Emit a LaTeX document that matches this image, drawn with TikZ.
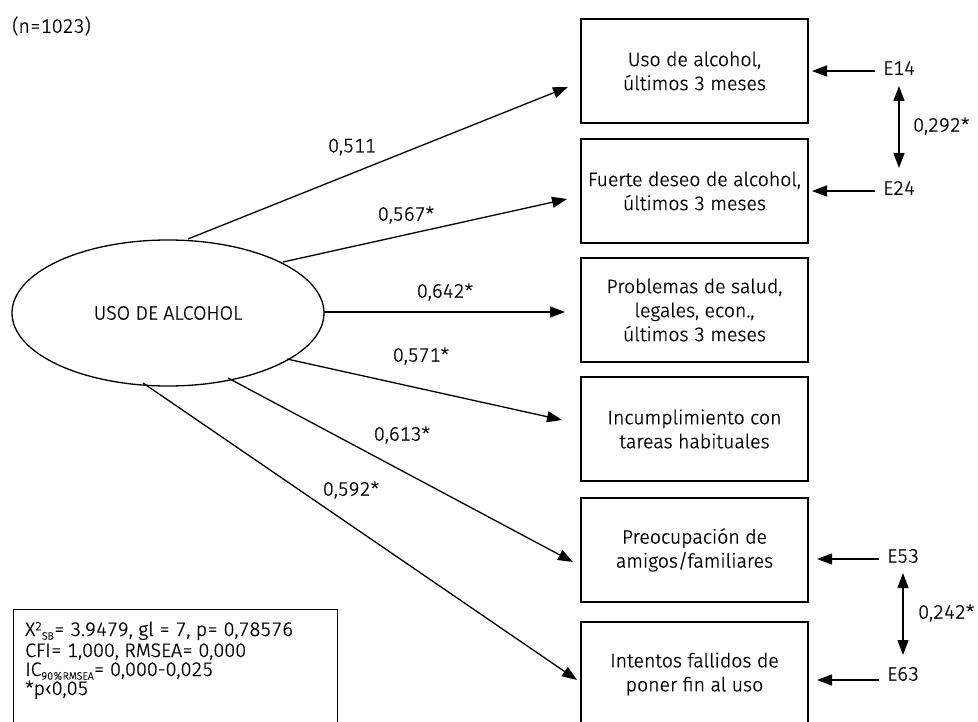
\documentclass[tikz,border=0pt]{standalone}
\usepackage{fontspec}
\setmainfont{Fira Sans}[UprightFont={* Light}, UprightFeatures={FakeBold=0.8}, Numbers=Monospaced]
\usetikzlibrary{arrows.meta,shapes.geometric}
\begin{document}
\begin{tikzpicture}[x=1pt,y=-1pt,
  box/.style={draw, line width=1.3pt, minimum width=227pt, minimum height=104pt, align=center, inner sep=0pt, font=\fontsize{19.5}{24}\selectfont},
  lbl/.style={font=\fontsize{19.5}{22}\selectfont, inner sep=0pt},
  arr/.style={line width=1.3pt, -{Triangle[length=15pt,width=11pt]}},
  darr/.style={line width=1.3pt, {Triangle[length=15pt,width=11pt]}-{Triangle[length=15pt,width=11pt]}}]
\useasboundingbox (0,0) rectangle (978,722);

\node[lbl, anchor=west] (n) at (12,26) {(n=1023)};

\node[draw, ellipse, line width=1.3pt, minimum width=312pt, minimum height=146pt, inner sep=0pt, font=\fontsize{19.5}{22}\selectfont] (ell) at (168,313) {USO DE ALCOHOL};

\node[box] (b1) at (694.5,71) {Uso de alcohol,\\últimos 3 meses};
\node[box] (b2) at (694.5,191) {Fuerte deseo de alcohol,\\últimos 3 meses};
\node[box] (b3) at (694.5,310) {Problemas de salud,\\legales, econ.,\\últimos 3 meses};
\node[box] (b4) at (694.5,429) {Incumplimiento con\\tareas habituales};
\node[box] (b5) at (694.5,550) {Preocupación de\\amigos/familiares};
\node[box] (b6) at (694.5,674) {Intentos fallidos de\\poner fin al uso};

% start points on ellipse
\coordinate (s1) at (188,239);
\coordinate (s2) at (283,262);
\coordinate (s3) at (324,312);
\coordinate (s4) at (287,359);
\coordinate (s5) at (228,378);
\coordinate (s6) at (143,383);
% end points near boxes
\coordinate (t1) at (568,87);
\coordinate (t2) at (567,199);
\coordinate (t3) at (565,312);
\coordinate (t4) at (562,420);
\coordinate (t5) at (573,562);
\coordinate (t6) at (577,680);

\draw[arr] (s1) -- (t1);
\draw[arr] (s2) -- (t2);
\draw[arr] (s3) -- (t3);
\draw[arr] (s4) -- (t4);
\draw[arr] (s5) -- (t5);
\draw[arr] (s6) -- (t6);

\node[lbl] (l1) at (352,147) {0,511};
\node[lbl] (l2) at (406,215) {0,567*};
\node[lbl] (l3) at (445,292) {0,642*};
\node[lbl] (l4) at (421,356) {0,571*};
\node[lbl] (l5) at (402,435) {0,613*};
\node[lbl] (l6) at (351,490) {0,592*};

% error terms
\node[lbl, anchor=west] (e14) at (883,68) {E14};
\node[lbl, anchor=west] (e24) at (883,188) {E24};
\node[lbl, anchor=west] (e53) at (887,556) {E53};
\node[lbl, anchor=west] (e63) at (887,674) {E63};
\coordinate (f14) at (875,71);
\coordinate (f24) at (875,191);
\coordinate (f53) at (879,559);
\coordinate (f63) at (879,680);
\coordinate (g14) at (812,71);
\coordinate (g24) at (812,191);
\coordinate (g53) at (817,559);
\coordinate (g63) at (817,680);
\draw[arr] (f14) -- (g14);
\draw[arr] (f24) -- (g24);
\draw[arr] (f53) -- (g53);
\draw[arr] (f63) -- (g63);

\coordinate (c1a) at (899,86);
\coordinate (c1b) at (899,168);
\coordinate (c2a) at (903,573);
\coordinate (c2b) at (903,655);
\draw[darr] (c1a) -- (c1b);
\draw[darr] (c2a) -- (c2b);
\node[lbl, anchor=west] (r1) at (913,126) {0,292*};
\node[lbl, anchor=west] (r2) at (918,613) {0,242*};

% legend
\node[draw, line width=1.3pt, anchor=north west, minimum width=324pt, minimum height=140pt, inner sep=0pt] (leg) at (13,609) {};
\node[lbl, anchor=base west] (lg1) at (25,636)
 {X\raisebox{0.55ex}{\fontsize{12}{12}\selectfont 2}\raisebox{-0.35ex}{\fontsize{10.5}{10.5}\selectfont SB}= 3.9479, gl = 7, p= 0,78576};
\node[lbl, anchor=base west] (lg2) at (25,657) {CFI= 1,000, RMSEA= 0,000};
\node[lbl, anchor=base west] (lg3) at (25,676)
 {IC\raisebox{-0.35ex}{\fontsize{10.5}{10.5}\selectfont 90\%RMSEA}= 0,000-0,025};
\node[lbl, anchor=base west] (lg4) at (25,695) {*p‹0,05};
\end{tikzpicture}
\end{document}
